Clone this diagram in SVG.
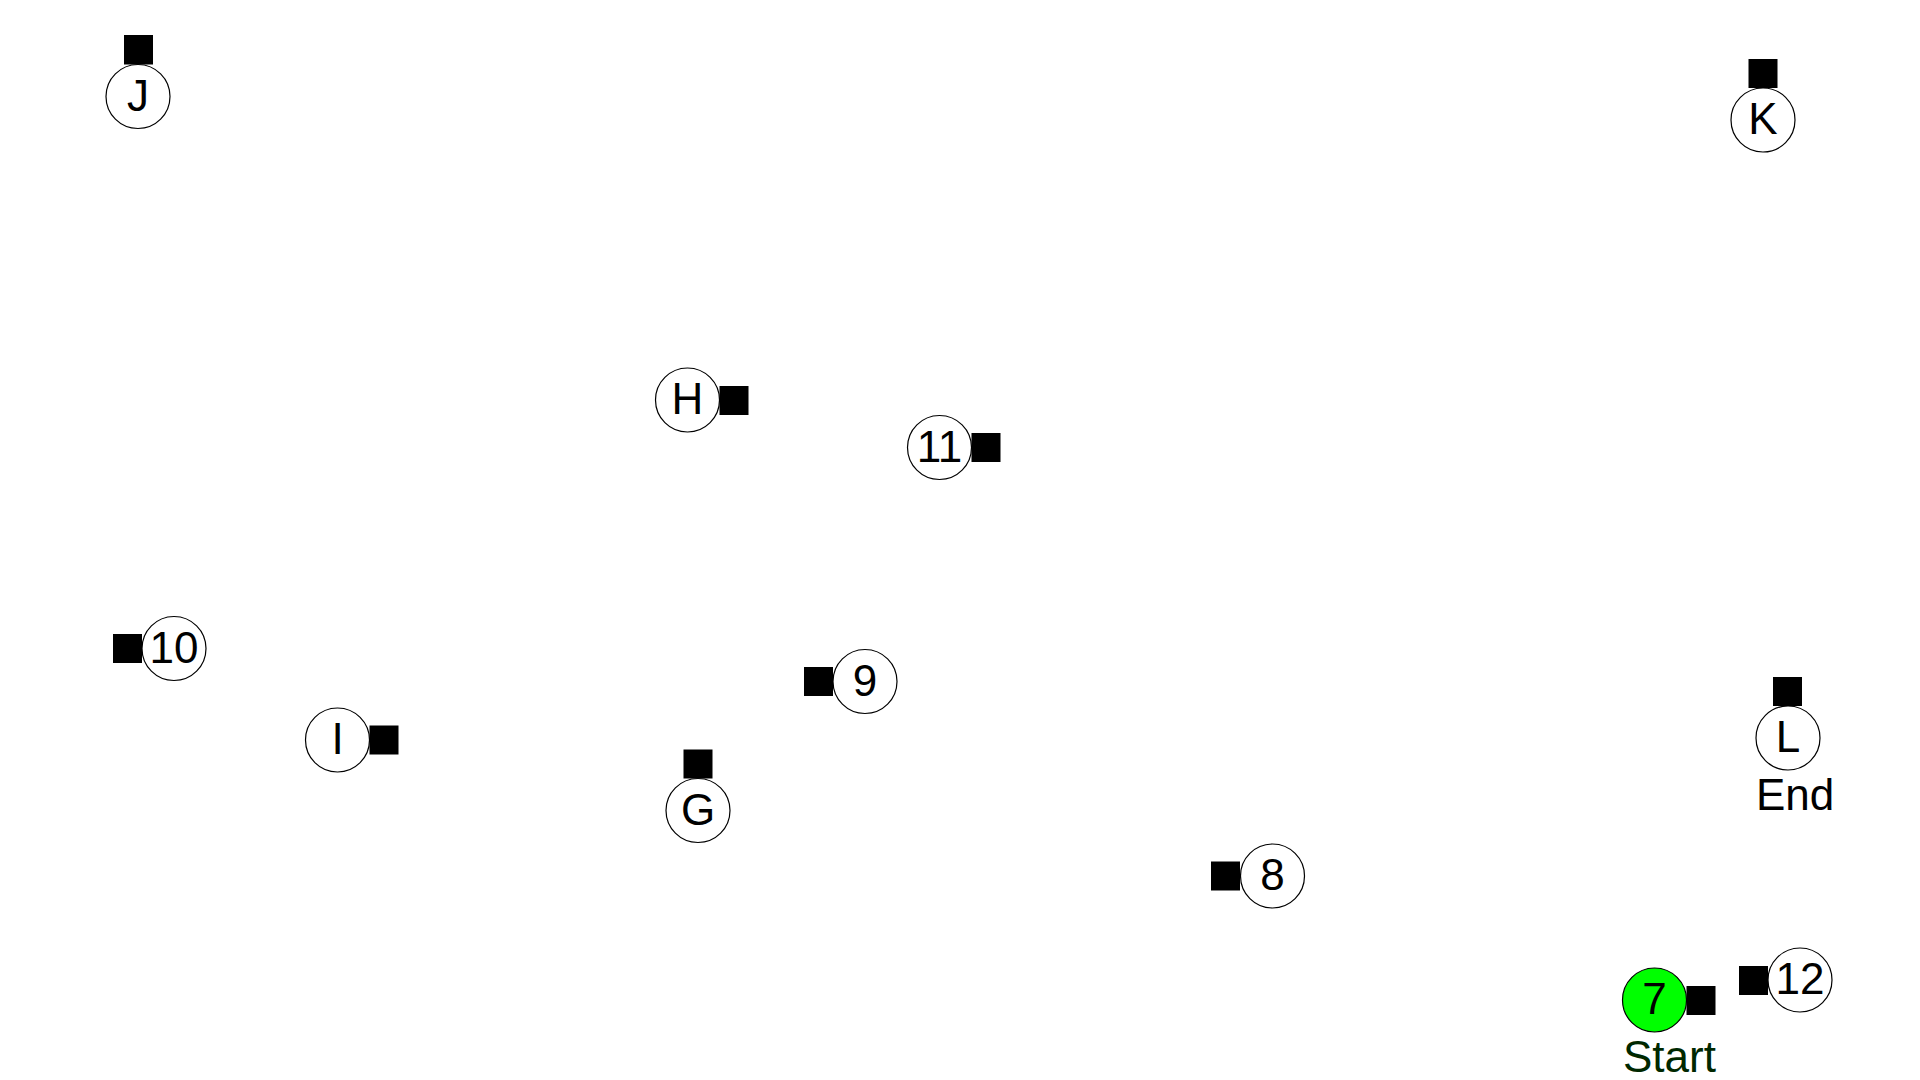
<svg xmlns="http://www.w3.org/2000/svg" width="1920" height="1080" viewBox="0 0 1920 1080">
<style>
.n{fill:#ffffff;stroke:#000000;stroke-width:1.2}
.s{fill:#00ff00;stroke:#000000;stroke-width:1.2}
.p{fill:#000000}
.t{font-family:"Liberation Sans",Arial,sans-serif;font-size:44px;fill:#000000;text-anchor:middle}
.l{font-family:"Liberation Sans",Arial,sans-serif;font-size:44px;text-anchor:start}
</style>
<rect width="1920" height="1080" fill="#ffffff"/>
<g id="connectors"></g>
<g id="node-J"><circle class="n" cx="138" cy="96.5" r="32"/><rect class="p" x="124" y="35" width="29" height="29.5"/><text class="t" x="138" y="110.5">J</text></g>
<g id="node-K"><circle class="n" cx="1763" cy="120" r="32"/><rect class="p" x="1748.5" y="59" width="29" height="29"/><text class="t" x="1763" y="134">K</text></g>
<g id="node-H"><circle class="n" cx="687.5" cy="400" r="32"/><rect class="p" x="719.5" y="386" width="29" height="29"/><text class="t" x="687.5" y="414">H</text></g>
<g id="node-11"><circle class="n" cx="939.5" cy="447.5" r="32"/><rect class="p" x="971.5" y="433" width="29" height="29"/><text class="t" x="939.5" y="461.5">11</text></g>
<g id="node-10"><circle class="n" cx="174" cy="648.5" r="32"/><rect class="p" x="113" y="634" width="29" height="29"/><text class="t" x="174" y="662.5">10</text></g>
<g id="node-9"><circle class="n" cx="865" cy="681.5" r="32"/><rect class="p" x="804" y="667" width="29" height="29"/><text class="t" x="865" y="695.5">9</text></g>
<g id="node-I"><circle class="n" cx="337.5" cy="740" r="32"/><rect class="p" x="369.5" y="725.5" width="29" height="29"/><text class="t" x="337.5" y="754">I</text></g>
<g id="node-G"><circle class="n" cx="698" cy="810.5" r="32"/><rect class="p" x="683.5" y="749.5" width="29" height="29"/><text class="t" x="698" y="824.5">G</text></g>
<g id="node-L"><circle class="n" cx="1788" cy="738" r="32"/><rect class="p" x="1773" y="677" width="29" height="29"/><text class="t" x="1788" y="752">L</text><text class="l" x="1756" y="809.5" fill="#000000">End</text></g>
<g id="node-8"><circle class="n" cx="1272.5" cy="876" r="32"/><rect class="p" x="1211" y="861.5" width="29" height="29"/><text class="t" x="1272.5" y="890">8</text></g>
<g id="node-7"><circle class="s" cx="1654.5" cy="1000" r="32"/><rect class="p" x="1686.5" y="986" width="29" height="29"/><text class="t" x="1654.5" y="1014">7</text><text class="l" x="1623" y="1071.5" fill="#002800">Start</text></g>
<g id="node-12"><circle class="n" cx="1800" cy="980" r="32"/><rect class="p" x="1739" y="966" width="29" height="29"/><text class="t" x="1800" y="994">12</text></g>
</svg>
